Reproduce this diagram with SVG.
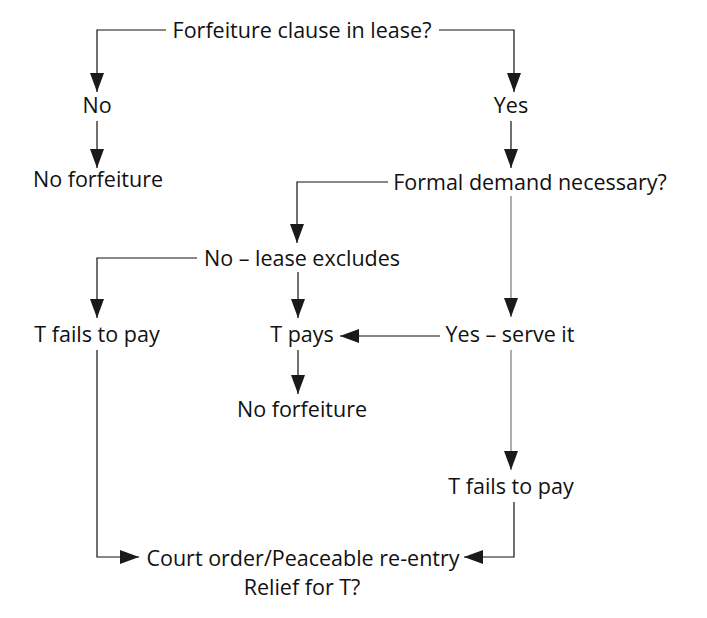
<svg xmlns="http://www.w3.org/2000/svg" width="707" height="618" viewBox="0 0 707 618">
<defs>
<marker id="ah" markerUnits="userSpaceOnUse" markerWidth="20" markerHeight="16" refX="19" refY="7" orient="auto">
<path d="M0,0 L19,7 L0,14 Z" fill="#1a1a1a"/>
</marker>
<style>
text{font-family:"Open Sans","Liberation Sans",sans-serif;font-size:21.5px;fill:#111;text-anchor:middle}
.c{fill:none;stroke:#111;stroke-width:1.2}
.g{fill:none;stroke:#777;stroke-width:1.2}
</style>
</defs>
<rect width="707" height="618" fill="#fff"/>
<g id="connectors">
<path class="c" d="M166,30 H97 V92" marker-end="url(#ah)"/>
<path class="c" d="M439,30 H514 V92" marker-end="url(#ah)"/>
<path class="c" d="M97,121 V168" marker-end="url(#ah)"/>
<path class="c" d="M511,121 V168" marker-end="url(#ah)"/>
<path class="c" d="M388,182 H297 V243" marker-end="url(#ah)"/>
<path class="g" d="M511,196 V317" marker-end="url(#ah)"/>
<path class="c" d="M197,258 H97 V318" marker-end="url(#ah)"/>
<path class="c" d="M298,272 V318" marker-end="url(#ah)"/>
<path class="c" d="M440,336 H340" marker-end="url(#ah)"/>
<path class="c" d="M298,350 V394" marker-end="url(#ah)"/>
<path class="g" d="M511,350 V470" marker-end="url(#ah)"/>
<path class="c" d="M97,350 V557 H139" marker-end="url(#ah)"/>
<path class="c" d="M514,502 V557 H464" marker-end="url(#ah)"/>
</g>
<g id="n1"><text x="302" y="38">Forfeiture clause in lease?</text></g>
<g id="n2"><text x="97" y="113">No</text></g>
<g id="n3"><text x="511" y="113">Yes</text></g>
<g id="n4"><text x="98" y="187">No forfeiture</text></g>
<g id="n5"><text x="530" y="190">Formal demand necessary?</text></g>
<g id="n6"><text x="302" y="266">No – lease excludes</text></g>
<g id="n7"><text x="97" y="342">T fails to pay</text></g>
<g id="n8"><text x="302" y="342">T pays</text></g>
<g id="n9"><text x="510" y="342">Yes – serve it</text></g>
<g id="n10"><text x="302" y="417">No forfeiture</text></g>
<g id="n11"><text x="511" y="494">T fails to pay</text></g>
<g id="n12"><text x="303" y="566">Court order/Peaceable re-entry</text><text x="302" y="595">Relief for T?</text></g>
</svg>
